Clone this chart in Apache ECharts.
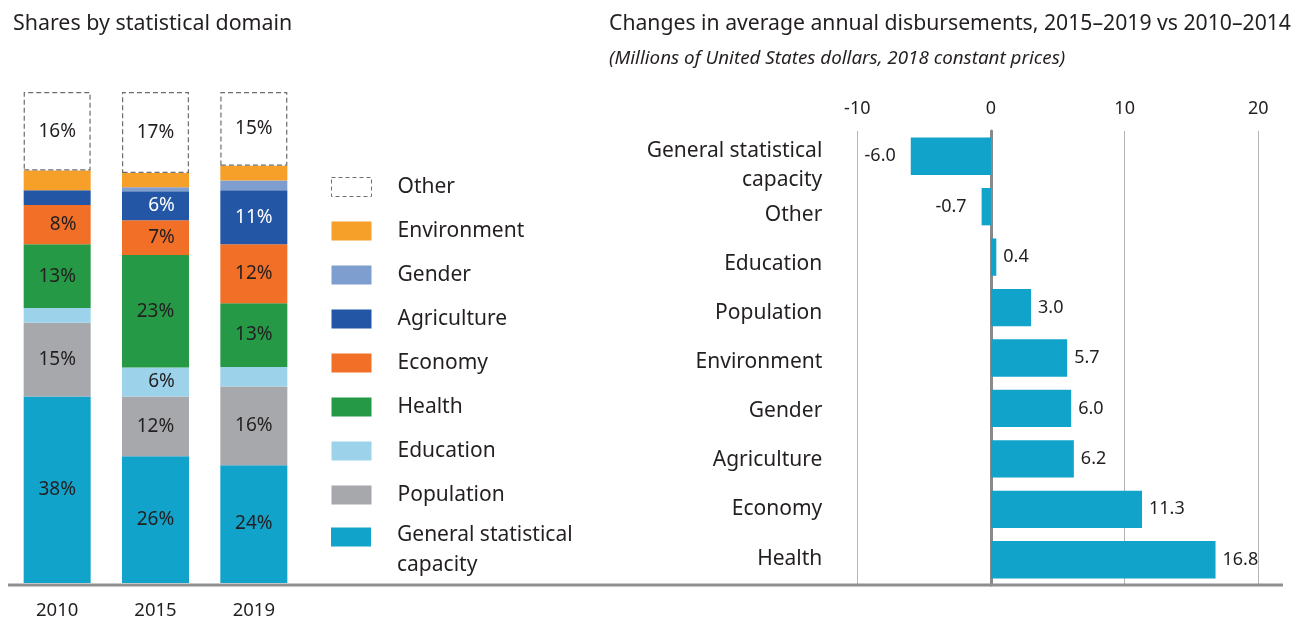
<!DOCTYPE html>
<html><head><meta charset="utf-8">
<script src="https://cdn.jsdelivr.net/npm/echarts@6/dist/echarts.min.js"></script>
<style>html,body{margin:0;padding:0;background:#fff}#c{width:1292px;height:620px}</style>
</head><body><div id="c"></div>
<script>
// ---- Left: shares by statistical domain (%) ----
const years = ['2010', '2015', '2019'];
const domainNames = ['General statistical capacity', 'Population', 'Education', 'Health', 'Economy', 'Agriculture', 'Gender', 'Environment', 'Other'];
const gscShare = [38, 25.8, 24];
const populationShare = [15, 12.2, 16];
const educationShare = [3, 5.9, 4];
const healthShare = [13, 22.9, 13];
const economyShare = [8, 7.1, 12];
const agricultureShare = [3, 5.9, 11];
const genderShare = [0, 0.8, 2];
const environmentShare = [4, 2.9, 3];
const otherShare = [16, 16.5, 15];

// ---- Right: change in average annual disbursements ----
const changeCategories = ['General statistical capacity', 'Other', 'Education', 'Population', 'Environment', 'Gender', 'Agriculture', 'Economy', 'Health'];
const changeValues = [-6.0, -0.7, 0.4, 3.0, 5.7, 6.0, 6.2, 11.3, 16.8];
const changeTicks = [-10, 0, 10, 20];

// ---- styles ----
const FONT = 'Noto Sans';
const TXT = '#231f20';
const shareSeries = [gscShare, populationShare, educationShare, healthShare, economyShare, agricultureShare, genderShare, environmentShare, otherShare];
const domainColors = ['#12a3cb', '#a7a8ac', '#9dd2eb', '#269947', '#f26f28', '#2356a5', '#7e9ed0', '#f6a02a', '#ffffff'];
const labelColors = [TXT, TXT, TXT, TXT, TXT, '#ffffff', TXT, TXT, TXT];

const wrapName = n => n === 'General statistical capacity' ? 'General statistical\ncapacity' : n;

const leftSeries = domainNames.map((name, i) => ({
  name: name,
  type: 'bar',
  stack: 'share',
  xAxisIndex: 0, yAxisIndex: 0,
  barWidth: 67,
  data: shareSeries[i].map(v => ({ value: v, label: { offset: Math.round(v) < 10 ? [6, 0] : [0, 0] } })),
  itemStyle: name === 'Other'
    ? { color: '#ffffff', borderColor: '#6d6e71', borderWidth: 1.2, borderType: [5, 3] }
    : { color: domainColors[i] },
  label: {
    show: true, position: 'inside', fontFamily: FONT, fontSize: 19, color: labelColors[i],
    formatter: p => p.value >= 5.5 ? Math.round(p.value) + '%' : ''
  }
}));

const legendData1 = ['Other', 'Environment', 'Gender', 'Agriculture', 'Economy', 'Health', 'Education', 'Population'].map(n =>
  n === 'Other'
    ? { name: n, itemStyle: { color: '#ffffff', borderColor: '#6d6e71', borderWidth: 1, borderType: [4, 3] } }
    : { name: n, itemStyle: { borderWidth: 0 } });

const catLabel = { fontFamily: FONT, fontSize: 21, lineHeight: 29, color: TXT, margin: 35, formatter: wrapName };

const chart = echarts.init(document.getElementById('c'), null, { renderer: 'canvas' });
chart.setOption({
  animation: false,
  backgroundColor: '#ffffff',
  textStyle: { fontFamily: FONT, color: TXT },
  title: [
    { text: 'Shares by statistical domain', left: 8, top: 8, textStyle: { fontFamily: FONT, fontSize: 21.4, fontWeight: 'normal', color: TXT } },
    { text: 'Changes in average annual disbursements, 2015\u20132019 vs 2010\u20132014', left: 604, top: 8, textStyle: { fontFamily: FONT, fontSize: 21.2, fontWeight: 'normal', color: TXT } },
    { text: '(Millions of United States dollars, 2018 constant prices)', left: 604, top: 44, textStyle: { fontFamily: FONT, fontSize: 18.8, fontStyle: 'italic', fontWeight: 'normal', color: TXT } }
  ],
  legend: [
    {
      orient: 'vertical', left: 331, top: 176, padding: 0, itemWidth: 40, itemHeight: 19, itemGap: 22,
      selectedMode: false, icon: 'rect',
      data: legendData1,
      textStyle: { fontFamily: FONT, fontSize: 21, lineHeight: 22, color: TXT, padding: [0, 0, 0, 21] }
    },
    {
      orient: 'vertical', left: 331, top: 494, padding: 0, itemWidth: 40, itemHeight: 19,
      selectedMode: false, icon: 'rect',
      data: [{ name: 'General statistical capacity', itemStyle: { borderWidth: 0 } }],
      formatter: n => '{s| }\n{a|General statistical}\n{a|capacity}',
      textStyle: {
        fontFamily: FONT, fontSize: 21, color: TXT, padding: [0, 0, 0, 21],
        rich: {
          s: { fontSize: 4, lineHeight: 26, height: 26 },
          a: { fontFamily: FONT, fontSize: 21, lineHeight: 30, color: TXT }
        }
      }
    }
  ],
  grid: [
    { left: 8, width: 295, top: 92, bottom: 35, containLabel: false },
    { left: 857.3, width: 401, top: 131, bottom: 35, containLabel: false },
    { left: 857.3, width: 401, top: 141, bottom: 36.8, containLabel: false }
  ],
  xAxis: [
    {
      gridIndex: 0, type: 'category', data: years,
      axisLine: { show: false }, axisTick: { show: false },
      axisLabel: { fontFamily: FONT, fontSize: 18.5, color: TXT, margin: 18 }
    },
    {
      gridIndex: 1, type: 'value', position: 'top', min: changeTicks[0], max: changeTicks[changeTicks.length - 1], interval: 10,
      axisLine: { show: false }, axisTick: { show: false },
      axisLabel: { fontFamily: FONT, fontSize: 18, color: TXT, margin: 13 },
      splitLine: { show: true, lineStyle: { color: '#b5b5b5', width: 1 } }
    },
    { gridIndex: 2, type: 'value', min: changeTicks[0], max: changeTicks[changeTicks.length - 1], show: false }
  ],
  yAxis: [
    { gridIndex: 0, type: 'value', min: 0, max: 100, show: false },
    {
      gridIndex: 1, type: 'category', inverse: true, data: changeCategories,
      axisTick: { show: false },
      axisLine: { show: true, onZero: true, lineStyle: { color: '#8a8a8a', width: 3 } },
      axisLabel: { show: false }
    },
    {
      gridIndex: 2, type: 'category', inverse: true, data: changeCategories,
      axisTick: { show: false }, axisLine: { show: false }, splitLine: { show: false },
      axisLabel: catLabel
    }
  ],
  series: leftSeries.concat([
    {
      name: 'Change', type: 'bar', xAxisIndex: 1, yAxisIndex: 1,
      barCategoryGap: '26%',
      itemStyle: { color: '#12a3cb' },
      data: changeValues.map(v => ({ value: v, label: { position: v < 0 ? 'left' : 'right', distance: v < 0 ? 15 : 7 } })),
      label: { show: true, fontFamily: FONT, fontSize: 18, color: TXT, formatter: p => p.value.toFixed(1) }
    }
  ]),
  graphic: [
    { type: 'line', shape: { x1: 8, y1: 585, x2: 1283, y2: 585 }, style: { stroke: '#8f8f8f', lineWidth: 3 }, z: 100 }
  ]
});
</script></body></html>
